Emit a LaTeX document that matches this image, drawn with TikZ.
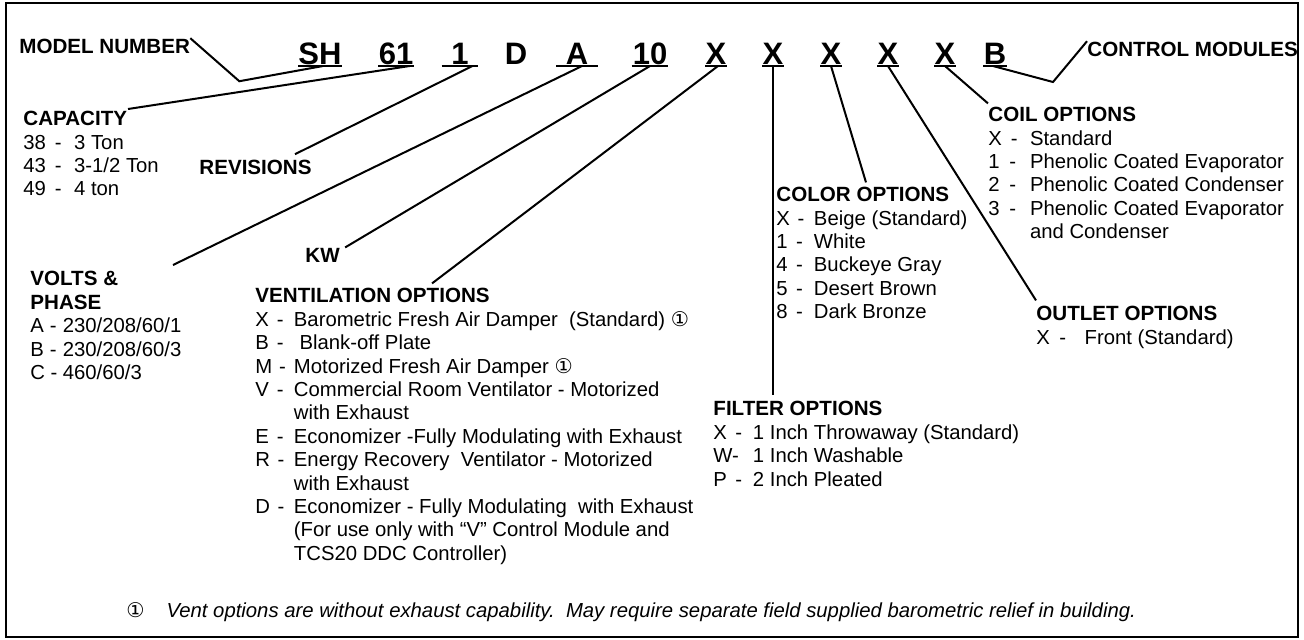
\documentclass[tikz,border=0pt]{standalone}
\usepackage{fontspec}
\setmainfont{Liberation Sans}
\newfontfamily\circfont{DejaVu Sans}
\usetikzlibrary{positioning}
\newcommand{\opt}[3][1.9em]{\makebox[#1][l]{#2\ \hspace{0pt plus 1fill}-\ \hspace{0pt plus 2fill}}#3}
\newcommand{\hd}[1]{{\fontsize{10.3}{11.7}\selectfont\bfseries #1}}
\newcommand{\one}{{\circfont ①}}

\begin{document}
\begin{tikzpicture}[x=0.5pt, y=-0.5pt,
    code/.style={anchor=base, inner sep=0pt, font=\fontsize{15.5}{18}\selectfont\bfseries},
    block/.style={anchor=north west, inner sep=0pt, align=left, font=\fontsize{10.15}{11.7}\selectfont},
    head/.style={anchor=base west, inner sep=0pt, font=\fontsize{10.3}{12}\selectfont\bfseries},
    lead/.style={line width=1pt},
    uline/.style={line width=0.9pt}]
    \useasboundingbox (0,0) rectangle (1304,639);
    \draw[line width=1.1pt] (6,3) rectangle (1298,637);

    % model number digits
    \node[code] (cSH) at (320,64) {SH};
    \node[code] (c61) at (396,64) {61};
    \node[code, minimum width=18pt] (cRev) at (460,64) {1};
    \node[code] (cD) at (516,64) {D};
    \node[code, minimum width=20.5pt] (cA) at (577,64) {A};
    \node[code, minimum width=18pt] (cKW) at (650,64) {10};
    \node[code] (cVent) at (716,64) {X};
    \node[code] (cFilt) at (773,64) {X};
    \node[code] (cColor) at (831,64) {X};
    \node[code] (cOut) at (888,64) {X};
    \node[code] (cCoil) at (945,64) {X};
    \node[code] (cB) at (995,64) {B};
    \foreach \c in {cSH,c61,cRev,cA,cKW,cVent,cFilt,cColor,cOut,cCoil,cB}
        \draw[uline] ([yshift=-1pt]\c.base west) -- ([yshift=-1pt]\c.base east);

    % labels
    \node[head] (model) at (19,53) {MODEL NUMBER};
    \node[head] (control) at (1087,56) {CONTROL MODULES};
    \node[head] (revisions) at (199,174) {REVISIONS};
    \node[head] (kw) at (305,262) {KW};

    \node[block] (capacity) at (23,111) {
        \hd{CAPACITY} \\
        \opt[2.5em]{38}{3 Ton} \\
        \opt[2.5em]{43}{3-1/2 Ton} \\
        \opt[2.5em]{49}{4 ton}
    };
    \node[block] (volts) at (30,271) {
        \hd{VOLTS \&} \\
        \hd{PHASE} \\
        \opt[1.6em]{A}{230/208/60/1} \\
        \opt[1.6em]{B}{230/208/60/3} \\
        \opt[1.6em]{C}{460/60/3}
    };
    \node[block] (vent) at (255,288) {
        \hd{VENTILATION OPTIONS} \\
        \opt{X}{Barometric Fresh Air Damper\ \ (Standard) \one} \\
        \opt{B}{\ Blank-off Plate} \\
        \opt{M}{Motorized Fresh Air Damper \one} \\
        \opt{V}{Commercial Room Ventilator - Motorized} \\
        \hspace*{1.9em}with Exhaust \\
        \opt{E}{Economizer -Fully Modulating with Exhaust} \\
        \opt{R}{Energy Recovery\ \ Ventilator - Motorized} \\
        \hspace*{1.9em}with Exhaust \\
        \opt{D}{Economizer - Fully Modulating\ \ with Exhaust} \\
        \hspace*{1.9em}(For use only with “V” Control Module and \\
        \hspace*{1.9em}TCS20 DDC Controller)
    };
    \node[block] (color) at (776,187) {
        \hd{COLOR OPTIONS} \\
        \opt[1.85em]{X}{Beige (Standard)} \\
        \opt[1.85em]{1}{White} \\
        \opt[1.85em]{4}{Buckeye Gray} \\
        \opt[1.85em]{5}{Desert Brown} \\
        \opt[1.85em]{8}{Dark Bronze}
    };
    \node[block] (filter) at (713,401) {
        \hd{FILTER OPTIONS} \\
        \opt[1.95em]{X}{1 Inch Throwaway (Standard)} \\
        \makebox[1.95em][l]{W-}1 Inch Washable \\
        \opt[1.95em]{P}{2 Inch Pleated}
    };
    \node[block] (outlet) at (1036,306) {
        \hd{OUTLET OPTIONS} \\
        \opt[2.1em]{X}{\ Front (Standard)}
    };
    \node[block] (coil) at (988,107) {
        \hd{COIL OPTIONS} \\
        \opt[2.05em]{X}{Standard} \\
        \opt[2.05em]{1}{Phenolic Coated Evaporator} \\
        \opt[2.05em]{2}{Phenolic Coated Condenser} \\
        \opt[2.05em]{3}{Phenolic Coated Evaporator} \\
        \hspace*{2.05em}and Condenser
    };
    \node[head, font=\fontsize{10.15}{12}\selectfont\itshape] (note) at (126,617)
        {{\upshape\one}\hspace{11pt}Vent options are without exhaust capability.\ \ May require separate field supplied barometric relief in building.};

    % leaders
    \draw[lead] (model.north east) -- ++(24.5pt,-21.5pt) -- ([xshift=1.5pt,yshift=-1pt]cSH.base);
    \draw[lead] ([xshift=-2pt,yshift=-1pt]c61.base east) -- ([xshift=52.5pt,yshift=1pt]capacity.north west);
    \draw[lead] ([xshift=-3pt,yshift=-1pt]cRev.base east) -- ([xshift=-8.5pt,yshift=2.5pt]revisions.north east);
    \draw[lead] ([xshift=2.5pt,yshift=-1pt]cA.base) -- ([xshift=71.5pt,yshift=3pt]volts.north west);
    \draw[lead] ([yshift=-1pt]cKW.base) -- ([xshift=2.5pt]kw.north east);
    \draw[lead] ([xshift=1pt,yshift=-1pt]cVent.base) -- ([xshift=88.5pt,yshift=2.3pt]vent.north west);
    \draw[lead] ([yshift=-1pt]cFilt.base) -- ([yshift=3pt]cFilt.base |- filter.north);
    \draw[lead] ([yshift=-1pt]cColor.base) -- ([xshift=45pt,yshift=2.3pt]color.north west);
    \draw[lead] ([yshift=-1pt]cOut.base) -- ([yshift=2.8pt]outlet.north west);
    \draw[lead] ([yshift=-1pt]cCoil.base) -- ([yshift=1.8pt]coil.north west);
    \draw[lead] ([xshift=-1pt,yshift=-1pt]cB.base) -- ++(30pt,-8pt) -- (control.north west);
\end{tikzpicture}
\end{document}
